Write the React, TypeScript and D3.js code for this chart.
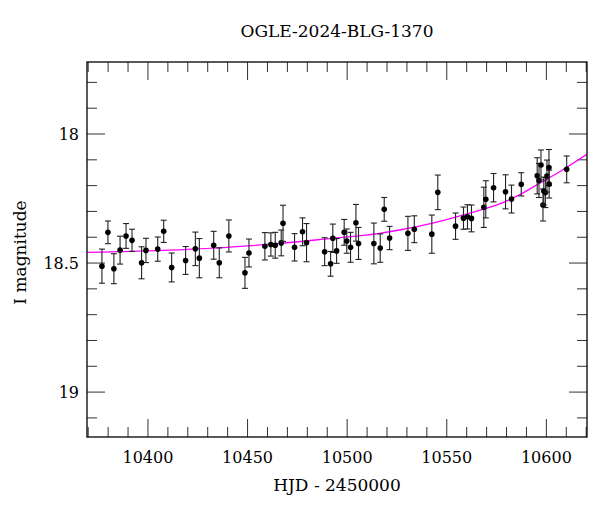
import React from "react";
import * as d3 from "d3";

const TITLE = "OGLE-2024-BLG-1370";
const X_LABEL = "HJD - 2450000";
const Y_LABEL = "I magnitude";

const hjd = [
  10376.9, 10379.9, 10382.9, 10386.0, 10389.0, 10392.0, 10396.8, 10399.0, 10404.9, 10407.9,
  10411.9, 10418.9, 10423.8, 10425.8, 10433.0, 10435.8, 10440.6, 10448.7, 10450.7, 10458.7,
  10461.7, 10463.9, 10466.9, 10467.8, 10473.6, 10477.6, 10479.6, 10488.7, 10491.7, 10492.8,
  10494.7, 10498.5, 10499.8, 10501.7, 10504.4, 10505.7, 10513.4, 10516.6, 10518.6, 10521.3,
  10530.5, 10533.7, 10542.5, 10545.5, 10554.4, 10558.4, 10560.4, 10562.4, 10568.6, 10569.6,
  10573.5, 10579.5, 10582.5, 10587.4, 10595.4, 10596.3, 10597.3, 10598.3, 10598.7, 10599.5,
  10600.3, 10601.3, 10601.4, 10610.2,
];
const mag = [
  18.512, 18.381, 18.522, 18.450, 18.395, 18.412, 18.499, 18.451, 18.446, 18.377,
  18.517, 18.490, 18.445, 18.481, 18.431, 18.499, 18.395, 18.538, 18.461, 18.435,
  18.428, 18.431, 18.422, 18.346, 18.439, 18.379, 18.421, 18.456, 18.503, 18.404,
  18.453, 18.381, 18.415, 18.439, 18.344, 18.424, 18.424, 18.442, 18.292, 18.403,
  18.385, 18.369, 18.388, 18.226, 18.357, 18.326, 18.321, 18.327, 18.284, 18.253,
  18.208, 18.224, 18.252, 18.195, 18.162, 18.180, 18.120, 18.275, 18.221, 18.227,
  18.163, 18.130, 18.194, 18.137,
];
const err = [
  0.066, 0.044, 0.058, 0.054, 0.048, 0.043, 0.062, 0.047, 0.047, 0.043,
  0.056, 0.054, 0.065, 0.076, 0.054, 0.058, 0.062, 0.060, 0.054, 0.053,
  0.045, 0.050, 0.050, 0.070, 0.053, 0.054, 0.074, 0.054, 0.048, 0.055,
  0.048, 0.050, 0.047, 0.058, 0.071, 0.062, 0.079, 0.055, 0.046, 0.045,
  0.066, 0.052, 0.074, 0.067, 0.051, 0.043, 0.047, 0.052, 0.078, 0.072,
  0.055, 0.066, 0.054, 0.045, 0.070, 0.066, 0.058, 0.062, 0.054, 0.058,
  0.062, 0.070, 0.054, 0.052,
];

const modelHjd = [10369.4, 10419.9, 10466.1, 10491.2, 10516.3, 10526.3, 10542.9, 10559.8, 10576.5, 10586.4, 10596.6, 10606.5, 10620.5];
const modelMag = [18.459, 18.447, 18.424, 18.405, 18.385, 18.372, 18.345, 18.310, 18.271, 18.236, 18.191, 18.147, 18.078];

const X_DOMAIN = [10369.4, 10620.4];
const Y_DOMAIN = [17.721, 19.174];
const X_MAJOR = [10400, 10450, 10500, 10550, 10600];
const Y_MAJOR = [18, 18.5, 19];

export default function App() {
  const W = 600, H = 512;
  const left = 87, right = 587, top = 62, bottom = 437;
  const x = d3.scaleLinear().domain(X_DOMAIN).range([left, right]);
  const y = d3.scaleLinear().domain(Y_DOMAIN).range([top, bottom]);
  const font = "'DejaVu Serif', serif";

  const xMinor = d3.range(10370, 10621, 10).filter((v) => v % 50 !== 0);
  const yMinor = d3.range(17.8, 19.2, 0.1).map((v) => +v.toFixed(1)).filter((v) => Math.abs(v * 2 - Math.round(v * 2)) > 1e-6);

  const line = d3
    .line<number>()
    .x((_, i) => x(modelHjd[i]))
    .y((d) => y(d))
    .curve(d3.curveMonotoneX);

  const tickColor = "#333";
  const majL = 18, minL = 10;

  return (
    <svg width={W} height={H} style={{ position: "absolute", left: 0, top: 0, background: "#fff" }}>
      <defs>
        <clipPath id="plot">
          <rect x={left} y={top} width={right - left} height={bottom - top} />
        </clipPath>
      </defs>
      <text x={(left + right) / 2} y={37} textAnchor="middle" fontFamily={font} fontSize={17}>
        {TITLE}
      </text>

      {/* ticks */}
      <g stroke={tickColor} strokeWidth={1}>
        {X_MAJOR.map((v) => (
          <g key={"xm" + v}>
            <line x1={x(v)} x2={x(v)} y1={bottom} y2={bottom - majL} />
            <line x1={x(v)} x2={x(v)} y1={top} y2={top + majL} />
          </g>
        ))}
        {xMinor.map((v) => (
          <g key={"xn" + v}>
            <line x1={x(v)} x2={x(v)} y1={bottom} y2={bottom - minL} />
            <line x1={x(v)} x2={x(v)} y1={top} y2={top + minL} />
          </g>
        ))}
        {Y_MAJOR.map((v) => (
          <g key={"ym" + v}>
            <line x1={left} x2={left + majL} y1={y(v)} y2={y(v)} />
            <line x1={right} x2={right - majL} y1={y(v)} y2={y(v)} />
          </g>
        ))}
        {yMinor.map((v) => (
          <g key={"yn" + v}>
            <line x1={left} x2={left + minL} y1={y(v)} y2={y(v)} />
            <line x1={right} x2={right - minL} y1={y(v)} y2={y(v)} />
          </g>
        ))}
      </g>

      {/* model curve */}
      <path d={line(modelMag) || ""} fill="none" stroke="#ff00ff" strokeWidth={1.3} clipPath="url(#plot)" />

      {/* error bars and points */}
      <g clipPath="url(#plot)">
        {hjd.map((t, i) => {
          const cx = x(t);
          const y1 = y(mag[i] - err[i]);
          const y2 = y(mag[i] + err[i]);
          return (
            <g key={"p" + i} stroke="#222" strokeWidth={1.1}>
              <line x1={cx} x2={cx} y1={y1} y2={y2} />
              <line x1={cx - 3} x2={cx + 3} y1={y1} y2={y1} />
              <line x1={cx - 3} x2={cx + 3} y1={y2} y2={y2} />
              <circle cx={cx} cy={y(mag[i])} r={2.8} fill="#000" stroke="none" />
            </g>
          );
        })}
      </g>

      {/* frame */}
      <rect x={left} y={top} width={right - left} height={bottom - top} fill="none" stroke="#000" strokeWidth={1.3} />

      {/* tick labels */}
      {X_MAJOR.map((v) => (
        <text key={"xl" + v} x={x(v)} y={463} textAnchor="middle" fontFamily={font} fontSize={16}>
          {v}
        </text>
      ))}
      {Y_MAJOR.map((v) => (
        <text key={"yl" + v} x={79} y={y(v) + 6} textAnchor="end" fontFamily={font} fontSize={16}>
          {v}
        </text>
      ))}
      <text x={(left + right) / 2} y={491} textAnchor="middle" fontFamily={font} fontSize={17}>
        {X_LABEL}
      </text>
      <text
        transform={`translate(26, ${(top + bottom) / 2 + 3}) rotate(-90)`}
        textAnchor="middle"
        fontFamily={font}
        fontSize={17}
      >
        {Y_LABEL}
      </text>
    </svg>
  );
}
